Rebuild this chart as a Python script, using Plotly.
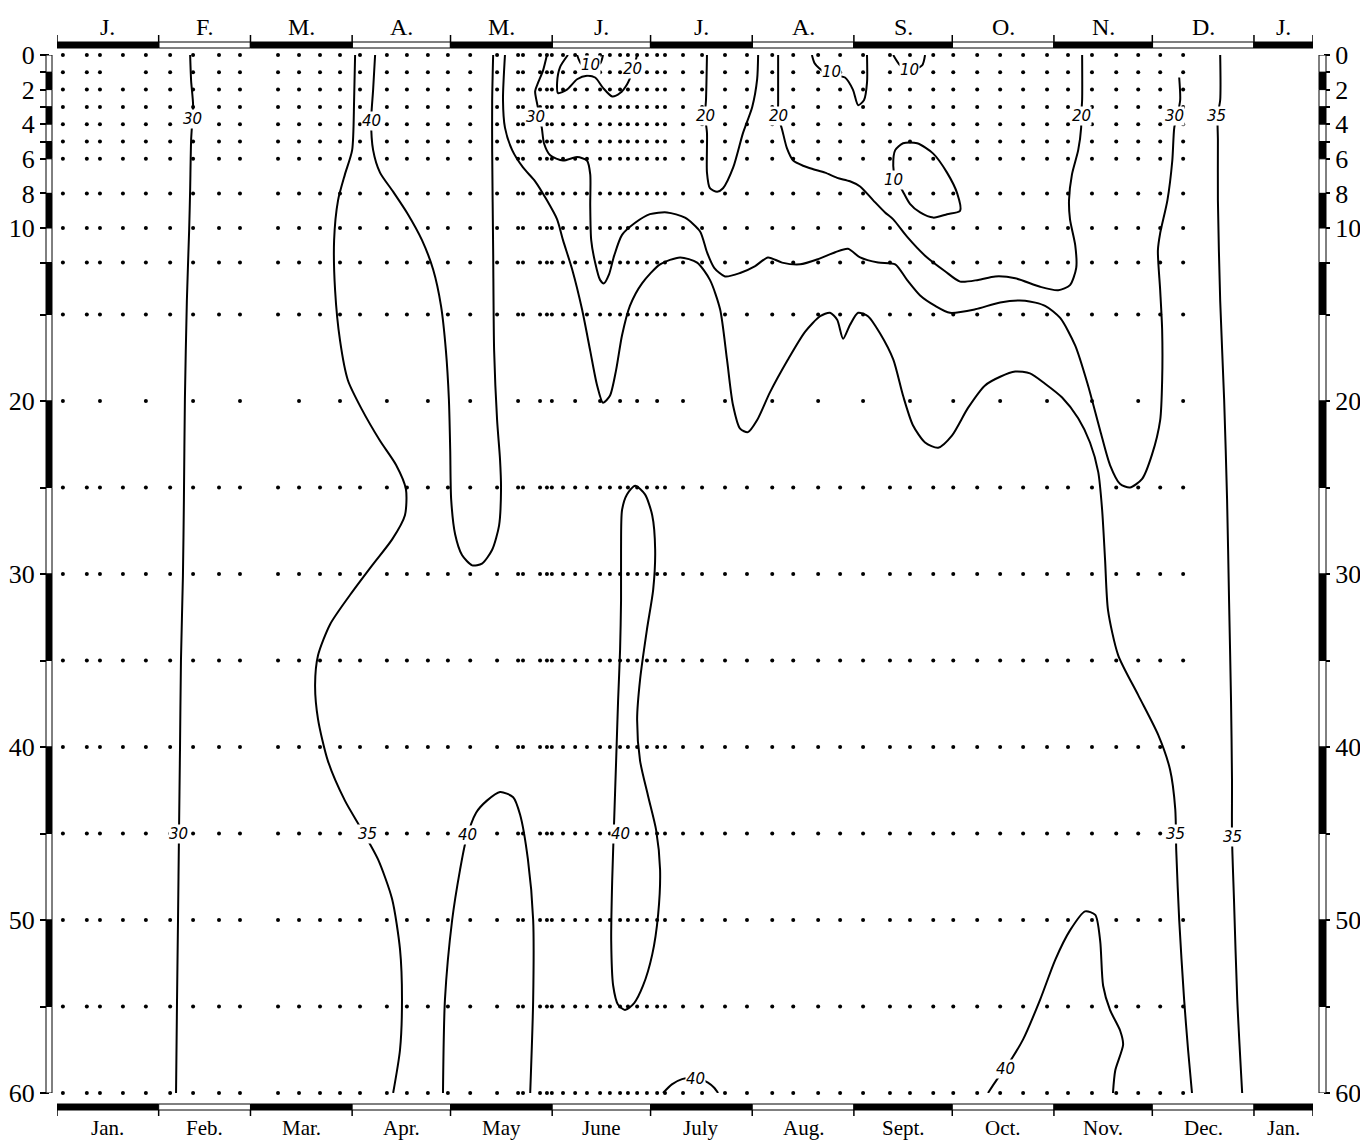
import plotly.graph_objects as go

# ---------------- data ----------------
# x = day of year (0 = 1 Jan), y = depth in metres
month_starts = [0, 31, 59, 90, 120, 151, 181, 212, 243, 273, 304, 334, 365]
x_end = 383
month_top = ["J.", "F.", "M.", "A.", "M.", "J.", "J.", "A.", "S.", "O.", "N.", "D.", "J."]
month_bottom = ["Jan.", "Feb.", "Mar.", "Apr.", "May", "June", "July", "Aug.", "Sept.",
                "Oct.", "Nov.", "Dec.", "Jan."]

depth_ticks = [0, 1, 2, 3, 4, 5, 6, 8, 10, 12, 15, 20, 25, 30, 35, 40, 45, 50, 55, 60]
depth_labels = ["0", "", "2", "", "4", "", "6", "8", "10", "", "", "20", "", "30", "",
                "40", "", "50", "", "60"]

sample_depths = [0, 1, 2, 3, 4, 5, 6, 8, 10, 12, 15, 20, 25, 30, 35, 40, 45, 50, 55, 60]
# sampling days outside the intensive early-summer series
routine_days = [1.8, 9.1, 13.1, 20.1, 27.1, 34.5, 41.5, 49.4, 55.8, 67.4, 73.8, 80.2, 86.3,
                92.4, 100.6, 106.7, 113.1, 119.2, 126.0, 134.2, 190.9, 196.7, 203.7, 210.4,
                218.1, 224.5, 232.1, 238.8, 245.8, 254.0, 260.1, 267.2, 273.3, 280.6, 287.6,
                294.6, 301.9, 308.3, 315.6, 323.0, 329.7, 336.4, 343.4]
# intensive series, late May - early July
intensive_days = [140.6, 142.1, 147.3, 149.4, 150.9, 154.3, 158.0, 161.6, 165.6, 168.6, 171.7,
                  174.1, 176.9, 179.9, 183.0, 185.4]

# isopleths: days and depths along each drawn line
iso_30_feb_d = [40.6, 40.9, 41.5, 40.9, 40.6, 40.3, 39.6, 39.0, 38.7, 38.4, 37.8, 37.5, 37.2, 36.9, 36.6, 36.3]
iso_30_feb_m = [0, 1.5, 2.9, 4.9, 7.8, 10.1, 14.2, 19.9, 25.7, 30.1, 35, 40.2, 45, 50, 54.6, 60]

iso_35_spring_d = [90.9, 90.6, 90.0, 87.8, 85.7, 84.5, 84.8, 86.3, 88.7, 93.0, 98.5, 103.4, 106.4, 106.1,
                   102.2, 96.1, 89.4, 83.3, 79.6, 78.7, 79.6, 82.6, 87.8, 93.0, 97.9, 102.2, 104.6, 105.2,
                   104.6, 102.5]
iso_35_spring_m = [0, 2.6, 5.5, 6.9, 8.4, 10.7, 13.6, 16.5, 18.8, 20.5, 22.3, 23.7, 25.1, 26.6, 28.0,
                   29.5, 31.2, 32.9, 34.7, 36.4, 38.4, 40.8, 43.1, 44.8, 46.5, 48.8, 51.7, 54.6, 57.5, 60]

iso_40_april_d = [97.0, 96.4, 95.8, 96.4, 98.5, 102.5, 107.0, 111.3, 114.7, 117.1, 118.6, 119.5, 119.9,
                  120.2, 121.4, 123.5, 126.6, 129.6, 132.7, 134.8, 135.4, 135.1, 134.2, 133.3, 133.0,
                  132.7, 132.7, 133.0]
iso_40_april_m = [0, 2.0, 3.8, 5.5, 6.8, 7.9, 9.2, 10.7, 12.4, 14.5, 17.1, 19.9, 22.8, 25.7, 27.7, 28.9,
                  29.5, 29.4, 28.6, 27.2, 25.1, 23.4, 21.1, 17.1, 11.3, 5.5, 2.6, 0]

iso_40_may_d = [117.7, 118.3, 120.5, 122.9, 124.7, 127.8, 131.1, 135.1, 139.1, 141.2, 143.6, 145.2, 145.2, 144.3]
iso_40_may_m = [60, 54.6, 50.0, 47.1, 45.4, 43.8, 43.1, 42.6, 42.9, 43.9, 46.5, 50.0, 54.6, 60]

iso_35_summer_d = [136.6, 136.0, 136.6, 138.8, 142.1, 145.8, 149.4, 152.5, 154.3, 157.1, 160.1, 162.6,
                   164.7, 166.5, 168.6, 170.5, 172.3, 174.7, 178.4, 183.9, 190.0, 195.2, 199.1, 202.2,
                   204.3, 206.1, 208.3, 210.7, 213.5, 217.4, 222.9, 228.1, 232.7, 235.7, 237.9, 239.7,
                   241.8, 244.3, 247.3, 251.0, 255.0, 258.0, 261.0, 264.7, 268.7, 272.9, 277.8, 283.0,
                   287.6, 292.2, 296.7, 301.3, 306.5, 311.4, 315.0, 317.5, 318.7, 319.6, 320.5, 323.6,
                   329.7, 335.8, 339.4, 341.0, 341.3, 342.2, 343.7, 344.9, 346.1]
iso_35_summer_m = [0, 2.6, 4.2, 5.5, 6.5, 7.3, 8.4, 9.5, 10.7, 12.4, 14.7, 17.1, 19.1, 20.1, 19.7, 18.2,
                   16.2, 14.5, 13.2, 12.1, 11.7, 12.0, 13.0, 14.7, 17.6, 20.2, 21.6, 21.8, 21.1, 19.5,
                   17.6, 16.0, 15.1, 14.9, 15.3, 16.4, 15.6, 14.9, 15.1, 16.1, 17.6, 19.7, 21.4, 22.4,
                   22.7, 22.0, 20.4, 19.1, 18.6, 18.3, 18.4, 19.0, 19.8, 21.0, 22.4, 24.1, 26.3, 29.2,
                   32.1, 34.7, 37.0, 39.3, 41.3, 43.6, 46.0, 50.0, 54.6, 57.5, 60]

iso_30_summer_d = [149.4, 148.2, 146.7, 145.8, 146.4, 147.3, 147.9, 148.5, 150.4, 154.3, 158.6, 161.6,
                   162.6, 162.6, 162.9, 164.1, 165.6, 166.8, 168.3, 169.9, 172.3, 176.3, 180.8, 186.0,
                   191.5, 196.1, 198.2, 200.4, 203.7, 208.3, 212.9, 216.8, 221.1, 226.6, 232.1, 237.3,
                   241.2, 244.9, 250.4, 255.6, 259.2, 263.2, 267.8, 272.3, 280.0, 287.6, 295.2, 301.3,
                   305.9, 310.5, 314.4, 318.1, 321.1, 324.2, 327.2, 330.9, 333.9, 336.4, 337.0, 337.0,
                   336.4, 335.7, 336.4, 338.6, 340.1, 340.7, 341.6, 342.5, 342.2]
iso_30_summer_m = [0, 0.9, 1.6, 2.1, 2.8, 3.6, 4.3, 5.1, 5.8, 6.1, 5.9, 6.1, 6.9, 8.7, 10.7, 12.0, 13.0,
                   13.2, 12.7, 11.6, 10.4, 9.7, 9.2, 9.1, 9.4, 10.2, 11.4, 12.3, 12.8, 12.6, 12.2, 11.7,
                   12.0, 12.1, 11.8, 11.4, 11.2, 11.7, 12.0, 12.1, 13.0, 13.9, 14.5, 14.9, 14.7, 14.3,
                   14.2, 14.5, 15.2, 16.8, 19.1, 21.7, 23.7, 24.8, 25.0, 24.5, 23.1, 21.1, 18.8, 15.9,
                   13.6, 11.3, 10.3, 8.4, 6.1, 4.2, 3.5, 2.6, 1.3]

iso_20_autumn_d = [219.9, 219.9, 219.9, 219.9, 221.1, 222.6, 224.5, 227.5, 230.6, 234.2, 237.9, 241.8,
                   244.9, 248.9, 252.5, 255.0, 259.2, 264.7, 270.8, 275.4, 280.9, 286.1, 292.2, 299.8,
                   305.3, 308.9, 310.8, 310.5, 308.9, 308.6, 309.5, 311.4, 312.3, 312.3, 312.6, 312.6]
iso_20_autumn_m = [0, 1.4, 2.8, 3.5, 4.3, 5.4, 6.1, 6.4, 6.6, 6.8, 7.1, 7.3, 7.6, 8.4, 9.1, 9.5, 10.5,
                   11.6, 12.5, 13.1, 13.0, 12.8, 12.9, 13.4, 13.6, 13.3, 12.3, 11.0, 9.5, 8.4, 6.9, 5.5,
                   4.2, 3.5, 2.6, 0]

iso_20_july_d = [198.2, 197.9, 197.6, 198.2, 198.2, 199.1, 201.3, 203.1, 206.2, 209.2, 212.0, 213.5, 213.8]
iso_20_july_m = [0, 2.6, 3.5, 4.5, 6.8, 7.7, 7.9, 7.7, 6.5, 4.5, 3.0, 1.4, 0]

iso_20_june_d = [155.8, 153.4, 152.5, 152.8, 155.5, 158.6, 161.6, 164.1, 166.5, 169.3, 171.7, 173.8, 175.4, 176.9]
iso_20_june_m = [0, 0.7, 1.6, 2.2, 2.0, 1.4, 1.2, 1.3, 1.9, 2.4, 2.2, 1.7, 1.0, 0]

iso_10_june_d = [158.6, 159.8, 162.6, 165.6, 166.5]
iso_10_june_m = [0, 0.5, 0.7, 0.5, 0]

iso_10_aug_d = [230.2, 231.1, 234.0, 238.0, 240.3, 242.7, 244.3, 246.1, 247.0, 247.0]
iso_10_aug_m = [0, 0.5, 1.0, 1.2, 1.3, 2.0, 2.9, 2.6, 1.6, 0]

iso_10_sept_d = [255.0, 257.1, 260.1, 263.8, 264.7]
iso_10_sept_m = [0, 0.6, 0.9, 0.6, 0]

iso_10_loop_d = [255.6, 258.0, 262.3, 267.2, 271.4, 274.5, 275.4, 271.4, 267.2, 263.2, 260.1, 257.7, 255.6, 255.0, 255.6]
iso_10_loop_m = [5.5, 5.1, 5.1, 5.7, 6.8, 8.0, 9.0, 9.2, 9.4, 9.1, 8.6, 7.8, 7.1, 6.4, 5.5]

iso_40_june_d = [176.3, 173.8, 172.3, 172.0, 172.0, 171.7, 171.1, 170.5, 169.9, 169.3, 169.0, 169.6, 171.1,
                 173.2, 176.0, 178.7, 181.5, 183.3, 183.9, 182.7, 180.2, 177.8, 176.9, 177.8, 179.9,
                 181.8, 182.4, 181.5, 179.3, 176.3]
iso_40_june_m = [24.9, 25.4, 26.3, 28.6, 31.5, 34.4, 37.3, 40.8, 44.2, 47.7, 51.2, 53.8, 54.9, 55.2, 54.8,
                 53.8, 52.0, 49.7, 47.1, 44.8, 42.8, 40.8, 38.4, 36.1, 33.2, 30.9, 28.6, 26.6, 25.4, 24.9]

iso_40_july_d = [184.8, 187.5, 190.6, 194.6, 198.5, 200.4, 201.6]
iso_40_july_m = [60, 59.5, 59.2, 59.1, 59.4, 59.7, 60]

iso_40_nov_d = [283.9, 286.7, 289.1, 294.6, 299.8, 304.4, 308.9, 313.5, 316.6, 318.1, 319.0, 321.1, 324.2, 325.1, 322.7, 322.0]
iso_40_nov_m = [60, 59.2, 58.6, 56.9, 54.6, 52.3, 50.6, 49.5, 49.7, 51.2, 53.8, 55.2, 56.4, 57.2, 58.7, 60]

iso_35_dec_d = [354.7, 354.7, 353.9, 354.0, 354.0, 354.7, 355.9, 356.8, 357.4, 358.0, 358.3, 358.3, 358.9, 359.9, 361.4]
iso_35_dec_m = [0, 2.6, 3.5, 4.9, 8.4, 14.2, 19.9, 25.7, 31.5, 37.3, 41.9, 45.2, 48.8, 54.6, 60]

isolines = [
    (iso_30_feb_d, iso_30_feb_m), (iso_35_spring_d, iso_35_spring_m), (iso_40_april_d, iso_40_april_m),
    (iso_40_may_d, iso_40_may_m), (iso_35_summer_d, iso_35_summer_m), (iso_30_summer_d, iso_30_summer_m),
    (iso_20_autumn_d, iso_20_autumn_m), (iso_20_july_d, iso_20_july_m), (iso_20_june_d, iso_20_june_m),
    (iso_10_june_d, iso_10_june_m), (iso_10_aug_d, iso_10_aug_m), (iso_10_sept_d, iso_10_sept_m),
    (iso_10_loop_d, iso_10_loop_m), (iso_40_june_d, iso_40_june_m), (iso_40_july_d, iso_40_july_m),
    (iso_40_nov_d, iso_40_nov_m), (iso_35_dec_d, iso_35_dec_m),
]

label_text = ["30", "30", "40", "35", "40", "30", "30", "20", "20", "20", "35", "35",
              "35", "40", "10", "20", "10", "10", "10", "40", "40"]
label_day = [41.2, 37.2, 95.8, 94.8, 125.3, 146.0, 340.7, 219.9, 312.3, 197.6, 353.7, 358.3,
             341.0, 171.7, 162.6, 175.4, 236.3, 260.1, 255.0, 194.6, 289.1]
label_depth = [3.7, 45, 3.8, 45, 45.1, 3.6, 3.5, 3.5, 3.5, 3.5, 3.5, 45.2,
               45, 45, 0.6, 0.8, 1.0, 0.85, 7.2, 59.2, 58.6]

# ---------------- geometry (pixels) ----------------
W, H = 1360, 1140
ML, MR, MT, MB = 49, 37, 55, 47
PW = W - ML - MR
PH = H - MT - MB
px = lambda v: v / PW
py = lambda v: v / PH
x_dom = [px(57 - ML), px(1313 - ML)]

fig = go.Figure()

# sample points
dot_x, dot_y = [], []
for m in sample_depths:
    if m == 20:
        days = routine_days[::2] + intensive_days[::2]
    elif m == 1:
        days = [d for d in routine_days if d != 20.1] + intensive_days
    else:
        days = routine_days + intensive_days
    for d in days:
        dot_x.append(d)
        dot_y.append(m)
fig.add_trace(go.Scatter(x=dot_x, y=dot_y, mode="markers", cliponaxis=False,
                         marker=dict(size=4, color="black"), hoverinfo="skip", showlegend=False))

for dd, mm in isolines:
    fig.add_trace(go.Scatter(x=dd, y=mm, mode="lines", cliponaxis=True,
                             line=dict(color="black", width=2, shape="spline", smoothing=0.7),
                             hoverinfo="skip", showlegend=False))

# dummy trace for right axis
fig.add_trace(go.Scatter(x=[0], y=[0], yaxis="y2", mode="markers", marker=dict(opacity=0),
                         hoverinfo="skip", showlegend=False))

for t, d, m in zip(label_text, label_day, label_depth):
    fig.add_annotation(x=d, y=m, xref="x", yref="y", text="<i>" + t + "</i>", showarrow=False,
                       font=dict(family="DejaVu Sans", size=15, color="black"),
                       bgcolor="white", borderpad=0)

shapes = []
# month bars top & bottom
top_y = (1 + py(55 - 48), 1 + py(55 - 42))
bot_y = (-py(1104 - 1093), -py(1110 - 1093))
bounds = month_starts + [x_end]
for i in range(len(bounds) - 1):
    fill = "black" if i % 2 == 0 else "white"
    for y0, y1 in (top_y, bot_y):
        shapes.append(dict(type="rect", xref="x", yref="paper", x0=bounds[i], x1=bounds[i + 1],
                           y0=y0, y1=y1, fillcolor=fill, line=dict(color="black", width=1)))
for b in bounds:
    shapes.append(dict(type="line", xref="x", yref="paper", x0=b, x1=b,
                       y0=top_y[0], y1=1 + py(55 - 35), line=dict(color="black", width=1.5)))
    shapes.append(dict(type="line", xref="x", yref="paper", x0=b, x1=b,
                       y0=bot_y[1], y1=-py(1116 - 1093), line=dict(color="black", width=1.5)))

# depth bars left & right
bar_rows = depth_ticks
for i in range(len(bar_rows) - 1):
    fill = "white" if i % 2 == 0 else "black"
    for x0, x1 in ((px(-3), px(3)), (1 - px(4), 1 + px(3))):
        shapes.append(dict(type="rect", xref="paper", yref="y", x0=x0, x1=x1,
                           y0=bar_rows[i], y1=bar_rows[i + 1], fillcolor=fill,
                           line=dict(color="black", width=1)))

fig.update_layout(shapes=shapes)

for i, t in enumerate(month_top):
    c = (bounds[i] + bounds[i + 1]) / 2
    fig.add_annotation(x=c, y=1 + py(28), xref="x", yref="paper", text=t, showarrow=False,
                       yanchor="middle", xanchor="center",
                       font=dict(family="Liberation Serif", size=24, color="black"))
for i, t in enumerate(month_bottom):
    c = (bounds[i] + bounds[i + 1]) / 2
    fig.add_annotation(x=c, y=-py(35), xref="x", yref="paper", text=t, showarrow=False,
                       yanchor="middle", xanchor="center",
                       font=dict(family="Liberation Serif", size=21, color="black"))

axis_font = dict(family="Liberation Serif", size=26, color="black")
fig.update_layout(
    width=W, height=H, autosize=False,
    margin=dict(l=ML, r=MR, t=MT, b=MB, pad=0, autoexpand=False),
    paper_bgcolor="white", plot_bgcolor="white",
    showlegend=False,
    xaxis=dict(domain=x_dom, range=[0, x_end], showgrid=False, zeroline=False, automargin=False,
               showticklabels=False, ticks="", showline=False, fixedrange=True),
    yaxis=dict(range=[60, 0], anchor="free", position=0, side="left", showgrid=False,
               automargin=False, zeroline=False, showline=False, ticks="outside", ticklen=9,
               tickwidth=1.5, tickcolor="black", tickvals=depth_ticks, ticktext=depth_labels,
               tickfont=axis_font, fixedrange=True),
    yaxis2=dict(range=[60, 0], anchor="free", position=1, side="right", overlaying="y",
                automargin=False, showgrid=False, zeroline=False, showline=False,
                ticks="outside", ticklen=6, tickwidth=1.5, tickcolor="black",
                tickvals=depth_ticks, ticktext=depth_labels, tickfont=axis_font,
                fixedrange=True),
)

fig.write_html("out.html", config={"responsive": False, "displayModeBar": False},
               post_script="document.body.style.margin='0px';document.body.style.overflow='hidden';")
